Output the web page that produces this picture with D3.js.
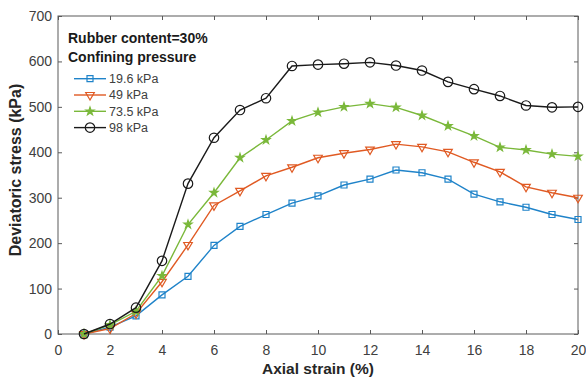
<!DOCTYPE html>
<html>
<head>
<meta charset="utf-8">
<script src="https://cdn.jsdelivr.net/npm/d3@7"></script>
<style>
  body { margin: 0; background: #fff; }
  svg { display: block; font-family: "Liberation Sans", Arial, sans-serif; }
</style>
</head>
<body>
<div id="chart"></div>
<script>
const strain = [1, 2, 3, 4, 5, 6, 7, 8, 9, 10, 11, 12, 13, 14, 15, 16, 17, 18, 19, 20];
const kPa196 = [0, 15, 40, 86, 127, 195, 237, 263, 288, 304, 328, 341, 361, 355, 341, 308, 291, 279, 263, 252];
const kPa49 = [0, 12, 45, 115, 196, 283, 315, 348, 367, 388, 398, 406, 418, 412, 401, 378, 357, 324, 311, 300];
const kPa735 = [0, 20, 50, 128, 241, 311, 388, 427, 469, 488, 500, 507, 499, 481, 458, 436, 411, 405, 396, 391];
const kPa98 = [0, 22, 58, 161, 331, 432, 493, 519, 590, 593, 595, 598, 591, 580, 555, 539, 524, 503, 499, 500];
const seriesNames = ['19.6 kPa', '49 kPa', '73.5 kPa', '98 kPa'];
const xTicks = [0, 2, 4, 6, 8, 10, 12, 14, 16, 18, 20];
const yTicks = [0, 100, 200, 300, 400, 500, 600, 700];

const W = 586, H = 381;
const margin = { top: 16, right: 8, bottom: 47, left: 58 };
const width = W - margin.left - margin.right;
const height = H - margin.top - margin.bottom;

const series = [
  { name: seriesNames[0], values: kPa196, color: '#1f83c9', marker: 'square' },
  { name: seriesNames[1], values: kPa49, color: '#e05a23', marker: 'triangle' },
  { name: seriesNames[2], values: kPa735, color: '#7ab83a', marker: 'star' },
  { name: seriesNames[3], values: kPa98, color: '#1a1a1a', marker: 'circle' }
];

const svg = d3.select('#chart')
  .append('svg')
  .attr('width', W)
  .attr('height', H);

const g = svg.append('g')
  .attr('transform', `translate(${margin.left},${margin.top})`);

const x = d3.scaleLinear().domain([0, 20]).range([0, width]);
const y = d3.scaleLinear().domain([0, 700]).range([height, 0]);

const axisColor = '#5a5a5a';
const textColor = '#404040';

// axes with inward ticks on all sides
function styleAxis(sel) {
  sel.select('.domain').remove();
  sel.selectAll('line').attr('stroke', axisColor);
  sel.selectAll('text').attr('fill', textColor).style('font-size', '14px');
}

g.append('g')
  .attr('transform', `translate(0,${height})`)
  .call(d3.axisBottom(x).tickValues(xTicks).tickSize(-4).tickPadding(11))
  .call(styleAxis);

g.append('g')
  .call(d3.axisLeft(y).tickValues(yTicks).tickSize(-4).tickPadding(6))
  .call(styleAxis);

g.append('g')
  .call(d3.axisTop(x).tickValues(xTicks).tickSize(-4).tickFormat(''))
  .call(styleAxis);

g.append('g')
  .attr('transform', `translate(${width},0)`)
  .call(d3.axisRight(y).tickValues(yTicks).tickSize(-4).tickFormat(''))
  .call(styleAxis);

g.append('rect')
  .attr('width', width)
  .attr('height', height)
  .attr('fill', 'none')
  .attr('stroke', axisColor)
  .attr('stroke-width', 1);

const symbols = {
  square: d3.symbol().type(d3.symbolSquare).size(36),
  triangle: d3.symbol().type(d3.symbolTriangle).size(32),
  star: d3.symbol().type(d3.symbolStar).size(20),
  circle: d3.symbol().type(d3.symbolCircle).size(70)
};

function drawMarker(sel, s) {
  const p = sel.append('path')
    .attr('d', symbols[s.marker]())
    .attr('stroke', s.color)
    .attr('stroke-width', 1.2)
    .attr('fill', s.marker === 'star' ? s.color : 'none');
  if (s.marker === 'triangle') p.attr('transform', 'rotate(180)');
  return p;
}

const line = d3.line()
  .x((d, i) => x(strain[i]))
  .y(d => y(d));

series.forEach(s => {
  g.append('path')
    .datum(s.values)
    .attr('d', line)
    .attr('fill', 'none')
    .attr('stroke', s.color)
    .attr('stroke-width', 1.4);

  s.values.forEach((v, i) => {
    const m = g.append('g')
      .attr('transform', `translate(${x(strain[i])},${y(v)})`);
    drawMarker(m, s);
  });
});

// legend
const legend = g.append('g').attr('transform', 'translate(10,0)');

legend.append('text')
  .attr('x', 0)
  .attr('y', 27)
  .attr('font-weight', 'bold')
  .style('font-size', '14px')
  .attr('fill', '#1a1a1a')
  .text('Rubber content=30%');

legend.append('text')
  .attr('x', 0)
  .attr('y', 45.5)
  .attr('font-weight', 'bold')
  .style('font-size', '14px')
  .attr('fill', '#1a1a1a')
  .text('Confining pressure');

series.forEach((s, i) => {
  const row = legend.append('g')
    .attr('transform', `translate(0,${62.7 + i * 16.3})`);
  row.append('line')
    .attr('x1', 6).attr('x2', 38)
    .attr('stroke', s.color)
    .attr('stroke-width', 1.4);
  drawMarker(row.append('g').attr('transform', 'translate(22,0)'), s);
  row.append('text')
    .attr('x', 41)
    .attr('dy', '0.35em')
    .style('font-size', '12.5px')
    .attr('fill', textColor)
    .text(s.name);
});

// axis titles
svg.append('text')
  .attr('x', margin.left + width / 2)
  .attr('y', 374)
  .attr('text-anchor', 'middle')
  .attr('font-weight', 'bold')
  .style('font-size', '15.5px')
  .attr('fill', '#262626')
  .text('Axial strain (%)');

svg.append('text')
  .attr('transform', 'translate(21,170) rotate(-90)')
  .attr('text-anchor', 'middle')
  .attr('font-weight', 'bold')
  .style('font-size', '16px')
  .attr('fill', '#262626')
  .text('Deviatoric stress (kPa)');
</script>
</body>
</html>
